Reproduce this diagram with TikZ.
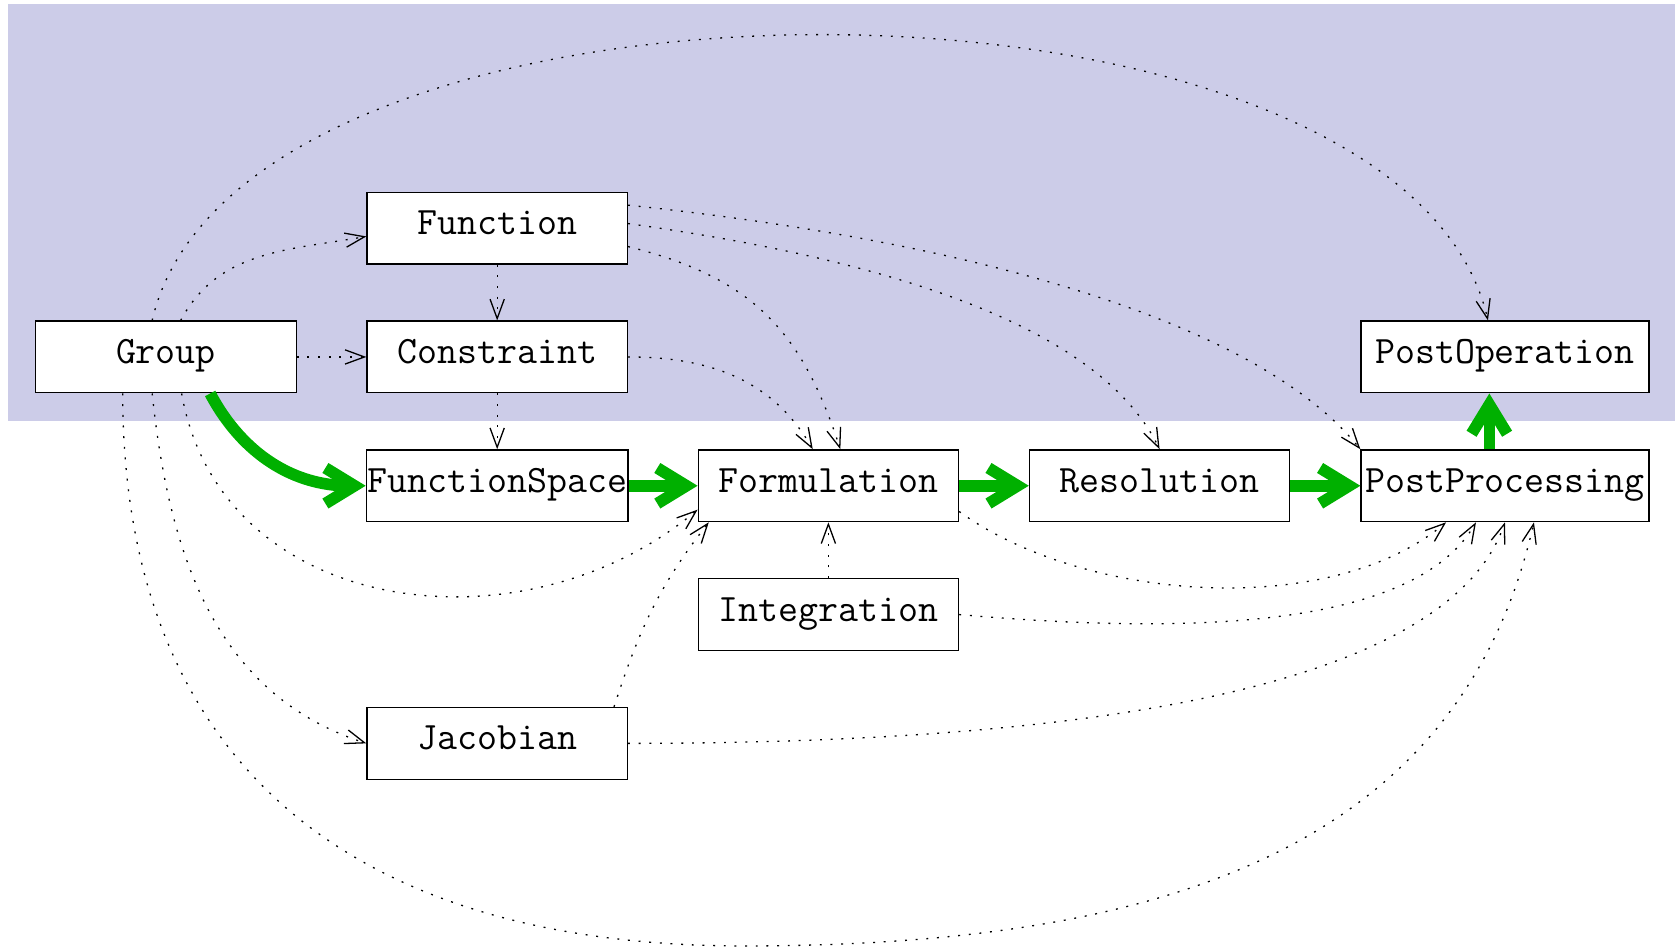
\documentclass[tikz,border=0pt]{standalone}
\usepackage{tikz}
\usetikzlibrary{arrows.meta}
\definecolor{bgblue}{RGB}{204,204,232}
\definecolor{flowgreen}{RGB}{0,176,0}

\begin{document}
\begin{tikzpicture} [box/.style={draw, fill=white, font=\ttfamily\large, minimum width=2.83cm, minimum height=0.78cm, inner xsep=0.3pt, text height=7pt, text depth=3pt},
        widebox/.style={box, minimum width=3.13cm},
        dep/.style={dash pattern=on 0.6pt off 2.7pt, -{Straight Barb[length=6pt,width=4.4pt]}},
        flow/.style={line width=3.6pt, draw=flowgreen, -{Straight Barb[length=9pt,width=11pt]}}]
        \useasboundingbox (-1.804,3.880) rectangle (16.402,-6.424);
        \fill[bgblue] (-1.717,3.837) rectangle (16.402,-0.696);
        \node[box] (Group) at (0,0) {Group};
        \node[box] (Function) at (3.6,1.4) {Function};
        \node[box] (Constraint) at (3.6,0) {Constraint};
        \node[box] (FunctionSpace) at (3.6,-1.4) {FunctionSpace};
        \node[box] (Formulation) at (7.2,-1.4) {Formulation};
        \node[box] (Resolution) at (10.8,-1.4) {Resolution};
        \node[widebox] (PostProcessing) at (14.554,-1.4) {PostProcessing};
        \node[widebox] (PostOperation) at (14.554,0) {PostOperation};
        \node[box] (Integration) at (7.2,-2.8) {Integration};
        \node[box] (Jacobian) at (3.6,-4.2) {Jacobian};
        \coordinate (arcbottom) at (6.283,-6.402);
        % main chain
        \draw[flow] ([xshift=4.8mm]Group.south) to[out=-62,in=180] (FunctionSpace.west);
        \draw[flow] (FunctionSpace) -- (Formulation);
        \draw[flow] (Formulation) -- (Resolution);
        \draw[flow] (Resolution) -- (PostProcessing);
        \draw[flow] ([xshift=-1.7mm]PostProcessing.north) -- ([xshift=-1.7mm]PostOperation.south);
        % dependencies
        \draw[dep] ([xshift=1.6mm]Group.north) to[out=62,in=190] ([yshift=-0.9mm]Function.west);
        \draw[dep] ([xshift=-1.5mm]Group.north) to[out=77,in=103,looseness=0.75] ([xshift=-1.85mm]PostOperation.north);
        \draw[dep] (Group.east) -- (Constraint.west);
        \draw[dep] (Function.south) -- (Constraint.north);
        \draw[dep] (Constraint.south) -- (FunctionSpace.north);
        \draw[dep] (Integration.north) -- (Formulation.south);
        \draw[dep] (Constraint.east) to[out=0,in=120] ([xshift=-1.7mm]Formulation.north);
        \draw[dep] ([yshift=-2mm]Function.east) to[out=-14,in=108,looseness=1.1] ([xshift=1.3mm]Formulation.north);
        \draw[dep] ([yshift=0.5mm]Function.east) to[out=-8,in=116,out distance=2.45cm,in distance=1.63cm] (Resolution.north);
        \draw[dep] ([yshift=2.5mm]Function.east) to[out=-6,in=129,out distance=3.3cm,in distance=1.95cm] (PostProcessing.north west);
        \draw[dep] ([xshift=1.7mm]Group.south) to[out=-80,in=-140,looseness=1.1] ([yshift=-2.6mm]Formulation.west);
        \draw[dep] ([xshift=-1.5mm]Group.south) to[out=-84,in=162] (Jacobian.west);
        \draw[dep] ([xshift=-4.7mm]Group.south) .. controls +(0,-3.9) and +(-4.39,0) .. (arcbottom)
                .. controls +(4.73,0) and +(-0.79,-3.45) .. ([xshift=3.15mm]PostProcessing.south);
        \draw[dep] ([xshift=12.7mm]Jacobian.north) to[out=72,in=-128] ([xshift=-13mm]Formulation.south);
        \draw[dep] ([yshift=-2.8mm]Formulation.east) to[out=-36,in=-140,looseness=0.8] ([xshift=-6.4mm]PostProcessing.south);
        \draw[dep] (Integration.east) to[out=-5,in=-120,out distance=2.23cm,in distance=1.41cm] ([xshift=-3.15mm]PostProcessing.south);
        \draw[dep] (Jacobian.east) to[out=0,in=-109,out distance=3.86cm,in distance=2.17cm] (PostProcessing.south);
    \end{tikzpicture}
\end{document}
